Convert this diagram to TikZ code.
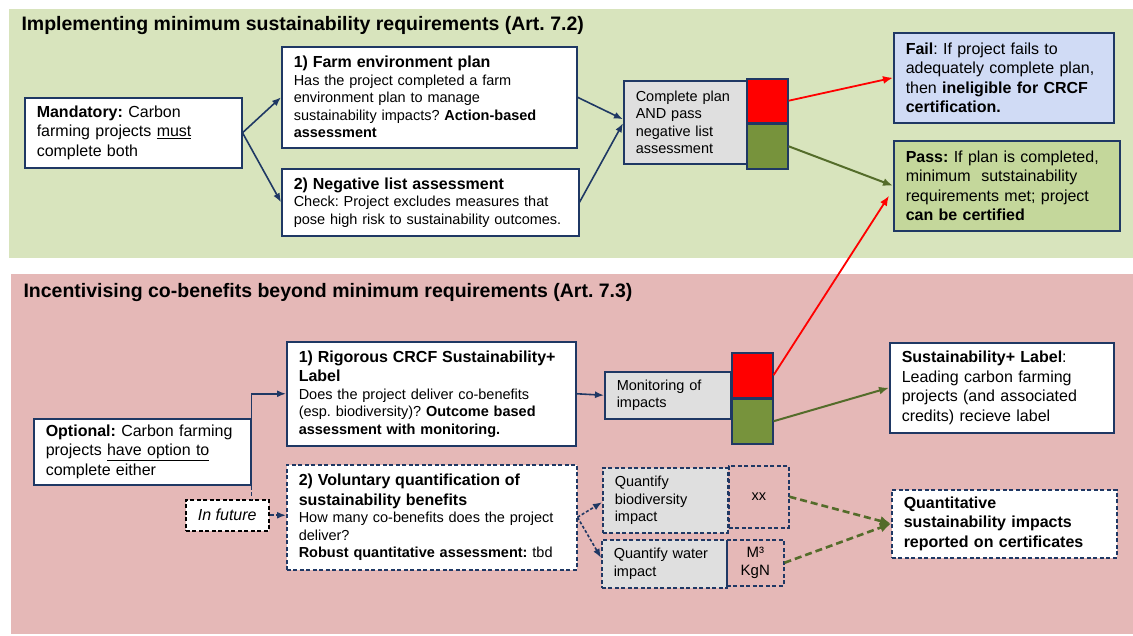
\documentclass[tikz,border=0pt]{standalone}
\usepackage{fontspec}
\setmainfont{Liberation Sans}
\usetikzlibrary{arrows.meta}

\definecolor{navy}{RGB}{31,56,100}
\definecolor{greenbg}{RGB}{216,228,189}
\definecolor{pinkbg}{RGB}{229,184,183}
\definecolor{failfill}{RGB}{208,219,245}
\definecolor{passfill}{RGB}{196,215,155}
\definecolor{boxgray}{RGB}{223,223,223}
\definecolor{sqgreen}{RGB}{119,147,60}
\definecolor{olive}{RGB}{84,108,42}

\newcommand{\bigtxt}{\fontsize{16}{19.5}\selectfont}
\newcommand{\smalltxt}{\fontsize{14.5}{17.5}\selectfont}
\frenchspacing

\begin{document}
\begin{tikzpicture}[x=1pt,y=-1pt,
  box/.style={draw=navy,line width=1.5pt,fill=white,anchor=north west,align=left,
    inner xsep=12pt,inner ysep=2pt,font=\smalltxt},
  dbox/.style={box,dash pattern=on 4pt off 2.5pt},
  sq/.style={draw=navy,line width=1.5pt,anchor=north west,inner sep=0pt},
  arr/.style={-{Latex[length=9pt,width=7pt]},line width=1.6pt,draw=navy},
  redarr/.style={-{Latex[length=10pt,width=8pt]},line width=1.8pt,draw=red},
  grnarr/.style={-{Latex[length=10pt,width=8pt]},line width=2pt,draw=olive},
  qarr/.style={-{Latex[length=11pt,width=10pt]},line width=2.6pt,draw=olive,dash pattern=on 7pt off 4pt},
  title/.style={anchor=west,font=\fontsize{19.5}{22}\selectfont\bfseries}]
\useasboundingbox (0,0) rectangle (1133,635);

% panels
\fill[greenbg] (9,9) rectangle (1133,258);
\fill[pinkbg] (11,274) rectangle (1133,634);
\node[title] (tmin) at (18,25) {Implementing minimum sustainability requirements (Art. 7.2)};
\node[title] (tco) at (20,292) {Incentivising co-benefits beyond minimum requirements (Art. 7.3)};

% minimum requirements
\node[box,text width=193pt,minimum height=70pt,font=\bigtxt] (mand) at (24,97)
  {\textbf{Mandatory:} Carbon\\ farming projects \underline{must}\\ complete both};
\node[box,text width=271pt,minimum height=101pt] (farm) at (281,46)
  {{\bigtxt\textbf{1) Farm environment plan}\par}
   Has the project completed a farm\\ environment plan to manage\\
   sustainability impacts? \textbf{Action-based}\\ \textbf{assessment}};
\node[box,text width=273pt,minimum height=67pt] (neg) at (281,168)
  {{\bigtxt\textbf{2) Negative list assessment}\par}
   Check: Project excludes measures that\\ pose high risk to sustainability outcomes.};
\node[box,fill=boxgray,text width=99pt,minimum height=83pt] (plan) at (623,80)
  {Complete plan\\ AND pass\\ negative list\\ assessment};
\node[sq,fill=red,minimum width=41pt,minimum height=44pt] (pred) at (746,78) {};
\node[sq,fill=sqgreen,minimum width=41pt,minimum height=45pt] (pgrn) at (746,123) {};
\node[box,fill=failfill,text width=196pt,minimum height=90pt,font=\bigtxt] (fail) at (893,32)
  {\textbf{Fail}: If project fails to\\ adequately complete plan,\\ then \textbf{ineligible for CRCF}\\ \textbf{certification.}};
\node[box,fill=passfill,text width=202pt,minimum height=90pt,font=\bigtxt] (pass) at (893,140)
  {\textbf{Pass:} If plan is completed,\\ minimum\ \ sutstainability\\ requirements met; project\\ \textbf{can be certified}};

% co-benefits
\node[box,text width=193pt,minimum height=66pt,font=\bigtxt] (opt) at (33,418)
  {\textbf{Optional:} Carbon farming\\ projects \underline{have option to}\\ complete either};
\node[box,text width=265pt,minimum height=104pt] (rig) at (286,341)
  {{\bigtxt\textbf{1) Rigorous CRCF Sustainability+}\\ \textbf{Label}\par}
   Does the project deliver co-benefits\\ (esp. biodiversity)? \textbf{Outcome based}\\
   \textbf{assessment with monitoring.}};
\node[dbox,text width=266pt,minimum height=105pt] (vol) at (286,464)
  {{\bigtxt\textbf{2) Voluntary quantification of}\\ \textbf{sustainability benefits}\par}
   How many co-benefits does the project\\ deliver?\\
   \textbf{Robust quantitative assessment:} tbd};
\node[dbox,draw=black,align=center,inner xsep=2pt,minimum width=83pt,minimum height=31pt,font=\bigtxt\itshape] (fut) at (185,499)
  {In future};
\node[box,fill=boxgray,text width=102pt,minimum height=47pt] (mon) at (604,371)
  {Monitoring of\\ impacts};
\node[sq,fill=red,minimum width=41pt,minimum height=45pt] (mred) at (731,352) {};
\node[sq,fill=sqgreen,minimum width=41pt,minimum height=45pt] (mgrn) at (731,398) {};
\node[box,text width=200pt,minimum height=90pt,font=\bigtxt] (sust) at (889,342)
  {\textbf{Sustainability+ Label}:\\ Leading carbon farming\\ projects (and associated\\ credits) recieve label};
\node[dbox,fill=boxgray,text width=101pt,minimum height=65pt] (qbio) at (602,467)
  {Quantify\\ biodiversity\\ impact};
\node[dbox,fill=none,align=center,inner xsep=2pt,minimum width=60pt,minimum height=62pt] (qxx) at (728,465) {xx};
\node[dbox,fill=boxgray,text width=101pt,minimum height=48pt] (qwat) at (601,539)
  {Quantify water\\ impact};
\node[dbox,fill=none,align=center,inner xsep=2pt,minimum width=57pt,minimum height=46pt,font=\fontsize{15}{18}\selectfont] (qm) at (726,539) {M³\\ KgN};
\node[dbox,text width=201pt,minimum height=68pt,font=\bigtxt\bfseries] (quant) at (891,489)
  {Quantitative\\ sustainability impacts\\ reported on certificates};

% connectors
\draw[arr] (mand.east) -- (farm.west);
\draw[arr] (mand.east) -- (neg.west);
\draw[arr] (farm.east) -- ([yshift=3pt]plan.west);
\draw[arr] (neg.east) -- ([yshift=-1pt]plan.west);
\draw[redarr] (pred.east) -- (fail.west);
\draw[grnarr] (pgrn.east) -- (pass.west);
\draw[redarr] (mred.east) -- ([xshift=-4pt,yshift=-10pt]pass.west);
\draw[arr] (opt.north east) |- (rig.west);
\draw[navy,line width=1.5pt,dash pattern=on 4pt off 2.5pt] (opt.south east) -- (opt.south east |- fut.north);
\draw[arr,dash pattern=on 4pt off 2.5pt] (fut.east) -- (vol.west |- fut.east);
\draw[arr] (rig.east) -- (mon.west);
\draw[arr,dash pattern=on 3pt off 2pt] (vol.east) -- ([yshift=-2pt]qbio.west);
\draw[arr,dash pattern=on 3pt off 2pt] (vol.east) -- ([yshift=6pt]qwat.west);
\draw[grnarr] (mgrn.east) -- (sust.west);
\draw[qarr] (qxx.east) -- (quant.west);
\draw[qarr] (qm.east) -- (quant.west);
\end{tikzpicture}
\end{document}
